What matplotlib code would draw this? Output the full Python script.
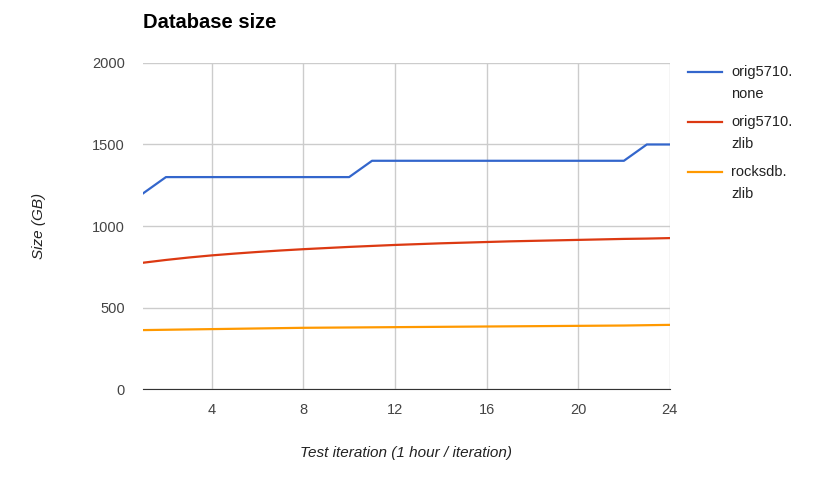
import matplotlib
matplotlib.use("Agg")
from matplotlib import pyplot as plt
from matplotlib.lines import Line2D

plt.rcParams['font.family'] = ['Liberation Sans', 'DejaVu Sans']

iterations = list(range(1, 25))
orig_none = [1200, 1300, 1300, 1300, 1300, 1300, 1300, 1300, 1300, 1300,
             1400, 1400, 1400, 1400, 1400, 1400, 1400, 1400, 1400, 1400,
             1400, 1400, 1500, 1500]
orig_zlib = [775, 792, 807, 820, 831, 841, 850, 858, 865, 872, 878, 884,
             889, 894, 898, 902, 906, 909, 912, 915, 918, 921, 923, 926]
rocks_zlib = [362, 364, 366, 368, 370, 372, 374, 376, 377, 378, 379, 380,
              381, 382, 383, 384, 385, 386, 387, 388, 389, 390, 392, 394]
labels = ["orig5710.\nnone", "orig5710.\nzlib", "rocksdb.\nzlib"]
colors = ["#3366cc", "#dc3912", "#ff9900"]
xticks = [4, 8, 12, 16, 20, 24]
yticks = [0, 500, 1000, 1500, 2000]

W, H = 834, 484
fig = plt.figure(figsize=(W / 100, H / 100), dpi=100)
ax = fig.add_axes([0.1715, 0.196, 0.6315, 0.674])

for vals, lab, col in zip([orig_none, orig_zlib, rocks_zlib], labels, colors):
    ax.plot(iterations, vals, color=col, lw=1.6, label=lab)

ax.set_xlim(1, 24)
ax.set_ylim(0, 2000)
ax.set_xticks(xticks)
ax.set_yticks(yticks)
ax.grid(True, color="#cccccc", lw=1)
ax.set_axisbelow(True)
for s in ["left", "right", "top"]:
    ax.spines[s].set_visible(False)
ax.spines["bottom"].set_color("#333333")
ax.tick_params(length=0, labelsize=10.5, colors="#444444")
ax.tick_params(axis="x", pad=10)
ax.tick_params(axis="y", pad=13)

ax.set_xlabel("Test iteration (1 hour / iteration)", fontstyle="italic",
              fontsize=11, color="#222222", labelpad=21)
ax.set_ylabel("Size (GB)", fontstyle="italic", fontsize=11,
              color="#222222", labelpad=33)
fig.text(143 / W, 1 - 23 / H, "Database size", fontsize=14.5,
         fontweight="bold", va="center", ha="left")

# legend: key line next to the first line of each two-line label
for i, (lab, col) in enumerate(zip(labels, colors)):
    y = 1 - (72 + 50 * i) / H
    fig.add_artist(Line2D([688 / W, 722 / W], [y, y], color=col, lw=1.6))
    fig.text(731 / W, y + 7 / H, lab, fontsize=10.5, color="#222222",
             ha="left", va="top", linespacing=1.75)

fig.savefig("out.png", dpi=100)
